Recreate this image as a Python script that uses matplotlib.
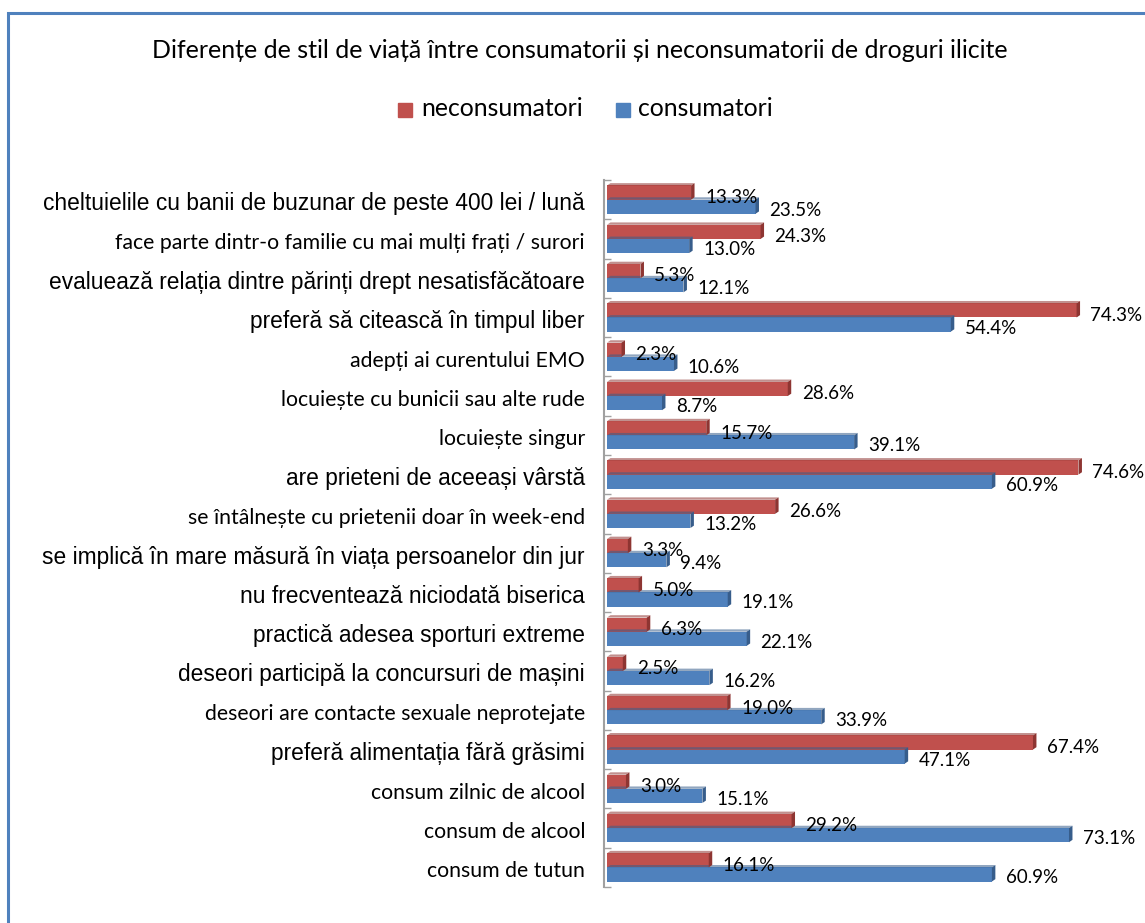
import matplotlib.pyplot as plt
import numpy as np
from matplotlib.patches import Rectangle, Polygon
import matplotlib.transforms as mtransforms

# Date
categorii = [
    "cheltuielile cu banii de buzunar de peste 400 lei / lună",
    "face parte dintr-o familie cu mai mulți frați / surori",
    "evaluează relația dintre părinți drept nesatisfăcătoare",
    "preferă să citească în timpul liber",
    "adepți ai curentului EMO",
    "locuiește cu bunicii sau alte rude",
    "locuiește singur",
    "are prieteni de aceeași vârstă",
    "se întâlnește cu prietenii doar în week-end",
    "se implică în mare măsură în viața persoanelor din jur",
    "nu frecventează niciodată biserica",
    "practică adesea sporturi extreme",
    "deseori participă la concursuri de mașini",
    "deseori are contacte sexuale neprotejate",
    "preferă alimentația fără grăsimi",
    "consum zilnic de alcool",
    "consum de alcool",
    "consum de tutun",
]
neconsumatori = [13.3, 24.3, 5.3, 74.3, 2.3, 28.6, 15.7, 74.6, 26.6, 3.3,
                 5.0, 6.3, 2.5, 19.0, 67.4, 3.0, 29.2, 16.1]
consumatori = [23.5, 13.0, 12.1, 54.4, 10.6, 8.7, 39.1, 60.9, 13.2, 9.4,
               19.1, 22.1, 16.2, 33.9, 47.1, 15.1, 73.1, 60.9]
# etichete scrise cu Arial in original
etichete_mari = {0, 2, 3, 7, 9, 10, 11, 12, 14}

ROSU = '#C0504D'
ROSU_INCHIS = '#8E3532'
ALBASTRU = '#4F81BD'
ALBASTRU_INCHIS = '#375D8B'

W, H = 1145, 923
fig = plt.figure(figsize=(W / 100, H / 100), dpi=100)

# chenar
fig.patches.append(Rectangle((8 / W, -0.1), 1.2, 1.1 - 13 / H, transform=fig.transFigure,
                             fill=False, edgecolor='#4F81BD', linewidth=2.2))

ax = fig.add_axes([607 / W, 1 - 887 / H, 538 / W, 707 / H])
n = len(categorii)
y = np.arange(n)
h = 0.36
dx, dy = 0.55, 0.06

def bare_3d(vals, offs, culoare, inchis):
    ax.barh(y + offs, vals, height=h, color=culoare, edgecolor='none', zorder=2)
    for yi, v in zip(y + offs, vals):
        top = yi - h / 2
        bot = yi + h / 2
        # fata de sus
        ax.add_patch(Polygon([(0, top), (v, top), (v + dx, top - dy), (dx, top - dy)],
                             closed=True, facecolor=inchis, alpha=0.55, edgecolor='none', zorder=2))
        # capat
        ax.add_patch(Polygon([(v, top), (v + dx, top - dy), (v + dx, bot - dy), (v, bot)],
                             closed=True, facecolor=inchis, edgecolor='none', zorder=3))

bare_3d(neconsumatori, -h / 2, ROSU, ROSU_INCHIS)
bare_3d(consumatori, h / 2, ALBASTRU, ALBASTRU_INCHIS)

for yi, v in zip(y - h / 2, neconsumatori):
    ax.annotate(f"{v:.1f}%", (v, yi), xytext=(10, -3.5), textcoords='offset points',
                ha='left', va='center', fontsize=13.5, family='Lato', zorder=4)
for yi, v in zip(y + h / 2, consumatori):
    ax.annotate(f"{v:.1f}%", (v, yi), xytext=(10, -2.5), textcoords='offset points',
                ha='left', va='center', fontsize=13.5, family='Lato', zorder=4)

ax.set_xlim(0, 538 / 6.32)
ax.set_ylim(n - 0.5, -0.5)
ax.set_yticks(y)
ax.set_yticklabels([])
ax.set_yticks(np.arange(n + 1) - 0.5, minor=True)
ax.tick_params(axis='y', which='major', length=0)
ax.tick_params(axis='y', which='minor', length=5, direction='in', color='#A0A0A0', width=1)
ax.set_xticks([])
for s in ['top', 'right', 'bottom']:
    ax.spines[s].set_visible(False)
ax.spines['left'].set_color('#A0A0A0')
ax.spines['left'].set_linewidth(1.5)
ax.spines['left'].set_position(('outward', 2))

# etichetele categoriilor, fonturi diferite ca in original
trans = mtransforms.blended_transform_factory(fig.transFigure, ax.transData)
for i, cat in enumerate(categorii):
    if i in etichete_mari:
        ax.text(585 / W, i + 0.1, cat, transform=trans, ha='right', va='center',
                fontsize=16.4, family='Liberation Sans', clip_on=False)
    else:
        ax.text(585 / W, i + 0.1, cat, transform=trans, ha='right', va='center',
                fontsize=15.3, family='Lato', clip_on=False)

fig.text(580 / W, 1 - 50 / H,
         "Diferențe de stil de viață între consumatorii și neconsumatorii de droguri ilicite",
         ha='center', va='center', fontsize=18, family='Lato')

# legenda
fig.patches.append(Rectangle((398 / W, 1 - 117 / H), 14 / W, 14 / H,
                             transform=fig.transFigure, color=ROSU))
fig.text(421 / W, 1 - 109 / H, "neconsumatori", ha='left', va='center', fontsize=17.8, family='Lato')
fig.patches.append(Rectangle((616 / W, 1 - 117 / H), 14 / W, 14 / H,
                             transform=fig.transFigure, color=ALBASTRU))
fig.text(638 / W, 1 - 109 / H, "consumatori", ha='left', va='center', fontsize=17.8, family='Lato')

fig.savefig('out.png', dpi=100)
